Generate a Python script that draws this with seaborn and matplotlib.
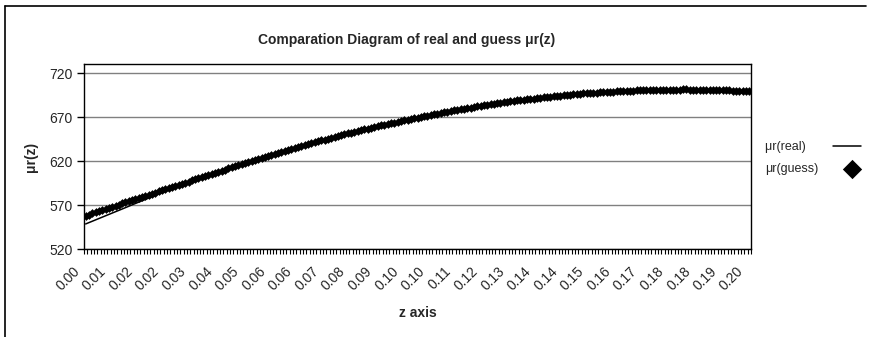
#!/usr/bin/env python3

import numpy as np
import pandas as pd
import matplotlib.pyplot as plt
import seaborn as sns
from matplotlib.lines import Line2D
from matplotlib.transforms import ScaledTranslation


SET_DPI = 100
FIGSIZE = (8.77, 3.37)

# z from 0.000 to 0.200 in steps of 0.001 (one category each)
Z_STEP = 0.001
LABEL_EVERY = 8

# mu_r(guess), one row per 0.01 of z
MU_GUESS = [
    558.0, 559.2, 560.5, 561.8, 563.0, 564.2, 565.5, 566.8, 568.0, 569.2,
    570.5, 571.8, 573.0, 574.2, 575.5, 576.8, 578.0, 579.2, 580.5, 581.8,
    583.0, 584.2, 585.5, 586.8, 588.0, 589.2, 590.5, 591.8, 593.0, 594.2,
    595.5, 596.8, 598.0, 599.2, 600.5, 601.8, 603.0, 604.2, 605.5, 606.8,
    608.0, 609.2, 610.4, 611.6, 612.8, 614.0, 615.2, 616.4, 617.6, 618.8,
    620.0, 621.1, 622.3, 623.4, 624.6, 625.8, 626.9, 628.0, 629.2, 630.4,
    631.5, 632.6, 633.7, 634.8, 635.9, 637.0, 638.1, 639.2, 640.3, 641.4,
    642.5, 643.5, 644.5, 645.5, 646.5, 647.5, 648.5, 649.5, 650.5, 651.5,
    652.5, 653.4, 654.3, 655.2, 656.1, 657.0, 657.9, 658.8, 659.7, 660.6,
    661.5, 662.3, 663.1, 663.9, 664.7, 665.5, 666.3, 667.1, 667.9, 668.7,
    669.5, 670.2, 671.0, 671.8, 672.5, 673.2, 674.0, 674.8, 675.5, 676.2,
    677.0, 677.6, 678.3, 679.0, 679.6, 680.2, 680.9, 681.6, 682.2, 682.8,
    683.5, 684.0, 684.6, 685.2, 685.7, 686.2, 686.8, 687.4, 687.9, 688.4,
    689.0, 689.4, 689.9, 690.4, 690.8, 691.2, 691.7, 692.2, 692.6, 693.0,
    693.5, 693.8, 694.2, 694.6, 694.9, 695.2, 695.6, 696.0, 696.3, 696.6,
    697.0, 697.2, 697.5, 697.8, 698.0, 698.2, 698.5, 698.8, 699.0, 699.2,
    699.5, 699.6, 699.8, 700.0, 700.1, 700.2, 700.4, 700.6, 700.7, 700.8,
    701.0, 701.0, 701.1, 701.2, 701.2, 701.2, 701.3, 701.4, 701.4, 701.4,
    701.5, 701.5, 701.4, 701.4, 701.3, 701.2, 701.2, 701.2, 701.1, 701.0,
    701.0, 700.8, 700.7, 700.6, 700.4, 700.2, 700.1, 700.0, 699.8, 699.6,
    699.5,
]

# mu_r(real)
MU_REAL = [
    548.5, 550.0, 551.6, 553.2, 554.7, 556.2, 557.8, 559.4, 560.9, 562.4,
    564.0, 565.5, 567.1, 568.7, 570.2, 571.8, 573.3, 574.8, 576.4, 578.0,
    579.5, 581.0, 582.5, 584.0, 585.5, 587.0, 588.5, 590.0, 591.5, 593.0,
    594.5, 595.8, 597.1, 598.4, 599.7, 601.0, 602.3, 603.6, 604.9, 606.2,
    607.6, 608.9, 610.2, 611.5, 612.7, 613.9, 615.1, 616.3, 617.5, 618.7,
    619.9, 621.0, 622.2, 623.4, 624.6, 625.7, 626.9, 628.0, 629.2, 630.3,
    631.5, 632.6, 633.7, 634.8, 635.9, 637.0, 638.1, 639.2, 640.3, 641.4,
    642.5, 643.5, 644.5, 645.5, 646.5, 647.5, 648.5, 649.5, 650.5, 651.5,
    652.5, 653.4, 654.3, 655.2, 656.1, 657.0, 657.9, 658.8, 659.7, 660.6,
    661.5, 662.3, 663.1, 663.9, 664.7, 665.5, 666.3, 667.1, 667.9, 668.7,
    669.5, 670.2, 671.0, 671.8, 672.5, 673.2, 674.0, 674.8, 675.5, 676.2,
    677.0, 677.6, 678.3, 679.0, 679.6, 680.2, 680.9, 681.6, 682.2, 682.8,
    683.5, 684.0, 684.6, 685.2, 685.7, 686.2, 686.8, 687.4, 687.9, 688.4,
    689.0, 689.4, 689.9, 690.4, 690.8, 691.2, 691.7, 692.2, 692.6, 693.0,
    693.5, 693.8, 694.2, 694.6, 694.9, 695.2, 695.6, 696.0, 696.3, 696.6,
    697.0, 697.2, 697.5, 697.8, 698.0, 698.2, 698.5, 698.8, 699.0, 699.2,
    699.5, 699.6, 699.8, 700.0, 700.1, 700.2, 700.4, 700.6, 700.7, 700.8,
    701.0, 701.0, 701.0, 701.0, 701.0, 701.0, 701.0, 700.9, 700.8, 700.7,
    700.5, 700.4, 700.2, 700.1, 700.0, 699.8, 699.7, 699.5, 699.4, 699.2,
    699.0, 698.8, 698.6, 698.4, 698.2, 698.0, 697.8, 697.6, 697.4, 697.2,
    697.0,
]

Y_TICKS = [520, 570, 620, 670, 720]


def comparison_plot():
    sns.set_style('white')
    plt.rcParams['font.family'] = ['Liberation Sans', 'DejaVu Sans']

    n = len(MU_GUESS)
    data = pd.DataFrame({'cat': np.arange(n),
                         'z': np.arange(n) * Z_STEP,
                         'real': MU_REAL,
                         'guess': MU_GUESS})

    fig = plt.figure(figsize=FIGSIZE, dpi=SET_DPI)
    ax = fig.add_axes([84 / 877, 1 - 249 / 337, 667 / 877, 185 / 337])

    sns.lineplot(x='cat', y='real', data=data, ax=ax, color='black',
                 linewidth=1.1, label='\u03bcr(real)', zorder=3)
    sns.scatterplot(x='cat', y='guess', data=data, ax=ax, color='black',
                    marker='D', s=20, linewidth=0, label='\u03bcr(guess)', zorder=4)

    ax.set_xlim(-0.5, n - 0.5)
    ax.set_ylim(520, 730.5)
    ax.set_yticks(Y_TICKS)
    ax.yaxis.grid(True, color='#808080', linewidth=1)
    ax.xaxis.grid(False)
    for sp in ax.spines.values():
        sp.set_color('black')
        sp.set_linewidth(1)

    lab_pos = data['cat'][::LABEL_EVERY]
    ax.set_xticks(lab_pos)
    ax.set_xticklabels([f'{v:.2f}' for v in data['z'][::LABEL_EVERY]],
                       rotation=45, ha='right', va='top', rotation_mode='anchor')
    ax.set_xticks(np.arange(-0.5, n), minor=True)
    ax.tick_params(axis='x', which='major', length=0, pad=6, labelsize=10)
    ax.tick_params(axis='x', which='minor', length=3.5, width=0.8,
                   direction='out', bottom=True, color='black')
    ax.tick_params(axis='y', length=5, width=1, direction='out', left=True,
                   color='black', pad=3, labelsize=10)

    # excel puts the rotated labels a little left of and below the category
    shift = ScaledTranslation(-13 / SET_DPI, -7 / SET_DPI, fig.dpi_scale_trans)
    for tick in ax.xaxis.get_major_ticks():
        tick.label1.set_transform(tick.label1.get_transform() + shift)

    ax.set_xlabel('z axis', fontsize=10, fontweight='bold', labelpad=9)
    ax.set_ylabel('\u03bcr(z)', fontsize=10, fontweight='bold', labelpad=8)

    fig.text(407 / 877, 1 - 40 / 337, 'Comparation Diagram of real and guess \u03bcr(z)',
             ha='center', va='center', fontsize=10, fontweight='bold')

    handles, labels = ax.get_legend_handles_labels()
    ax.legend(handles, labels, loc='center left', bbox_to_anchor=(754 / 877, 1 - 158 / 337),
              bbox_transform=fig.transFigure, frameon=False, markerfirst=False,
              fontsize=9, markerscale=2.2, handlelength=2.2, labelspacing=0.8,
              handletextpad=1.6)
    # left-align the label column like the excel legend
    leg = ax.get_legend()
    for col in leg._legend_handle_box.get_children():
        col.align = 'left'
    texts = leg.get_texts()
    widest = max(len(t.get_text()) for t in texts)
    for t in texts:
        t.set_text(t.get_text() + '\u2007' * (widest - len(t.get_text())))

    # chart area frame (only top and left edges are inside the picture)
    fig.add_artist(Line2D([4.5 / 877, 4.5 / 877], [0, 1 - 5.5 / 337],
                          transform=fig.transFigure, color='black', linewidth=1.2))
    fig.add_artist(Line2D([4.5 / 877, 866 / 877], [1 - 5.5 / 337, 1 - 5.5 / 337],
                          transform=fig.transFigure, color='black', linewidth=1.2))

    fig.savefig('out.png', dpi=SET_DPI)
    plt.close(fig)


if __name__ == '__main__':
    comparison_plot()
